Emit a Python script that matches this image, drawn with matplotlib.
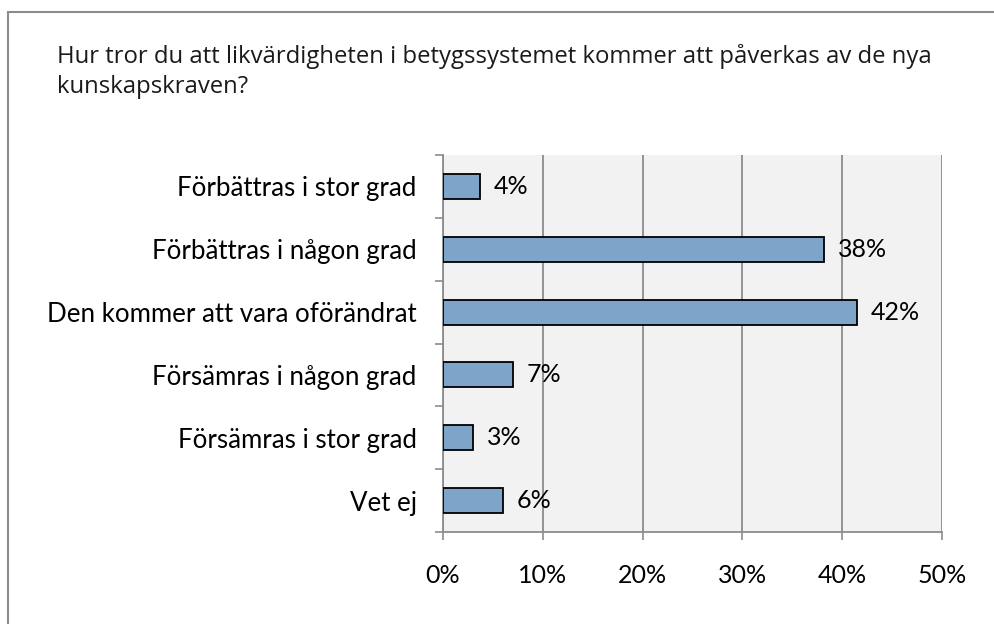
import matplotlib
matplotlib.use("Agg")
import matplotlib.pyplot as plt
from matplotlib.patches import Rectangle

categories = ["Förbättras i stor grad", "Förbättras i någon grad", "Den kommer att vara oförändrat",
              "Försämras i någon grad", "Försämras i stor grad", "Vet ej"]
values = [3.7, 38.2, 41.5, 7.0, 3.0, 6.0]
value_labels = ["4%", "38%", "42%", "7%", "3%", "6%"]
xticks = [0, 10, 20, 30, 40, 50]
xtick_labels = ["0%", "10%", "20%", "30%", "40%", "50%"]
title = "Hur tror du att likvärdigheten i betygssystemet kommer att påverkas av de nya\nkunskapskraven?"

W, H = 994, 624
fig = plt.figure(figsize=(W / 100, H / 100), dpi=100)
fig.patch.set_facecolor("white")

# outer frame (cropped on right/bottom)
fig.add_artist(Rectangle((8 / W, -0.1), 1.2, 1 - 12 / H + 0.1, transform=fig.transFigure,
                         fill=False, edgecolor="#8c8c8c", linewidth=1.5))

fig.text(57 / W, 1 - 44 / H, title, ha="left", va="top", fontsize=17.2,
         family="Open Sans", color="#1a1a1a", linespacing=1.35)

ax = fig.add_axes([443 / W, 1 - 532 / H, (942 - 443) / W, (532 - 155) / H])
ax.set_facecolor("#F2F2F2")
n = len(categories)
ypos = list(range(n))
ax.barh(ypos, values, height=0.4, color="#7FA4C9", edgecolor="black", linewidth=1.3, zorder=3)
for y, v, lab in zip(ypos, values, value_labels):
    ax.annotate(lab, (v, y), xytext=(14, 0), textcoords="offset pixels", va="center", ha="left",
                fontsize=18, family="Lato", color="black", zorder=4)

ax.set_ylim(n - 0.5, -0.5)
ax.set_xlim(0, 50)
ax.set_xticks(xticks)
ax.set_xticklabels(xtick_labels, fontsize=18, family="Lato")
ax.set_yticks(ypos)
ax.set_yticklabels(categories, fontsize=18.6, family="Lato")
ax.set_yticks([i - 0.5 for i in range(n + 1)], minor=True)
ax.tick_params(axis="y", which="major", length=0, pad=19)
ax.tick_params(axis="y", which="minor", length=6, color="#8c8c8c", width=1.2)
ax.tick_params(axis="x", which="major", length=6, color="#8c8c8c", width=1.2, pad=17)
ax.grid(axis="x", color="#8c8c8c", linewidth=1.3, zorder=1)
for s in ["top", "right"]:
    ax.spines[s].set_visible(False)
for s in ["left", "bottom"]:
    ax.spines[s].set_color("#8c8c8c")
    ax.spines[s].set_linewidth(1.3)

fig.savefig("out.png", dpi=100)
